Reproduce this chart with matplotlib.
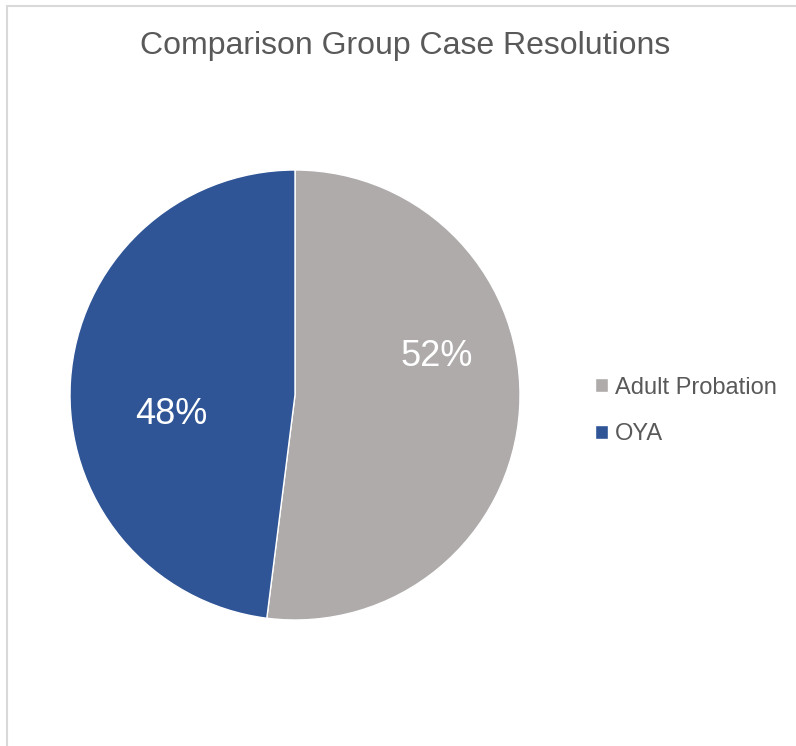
import matplotlib.pyplot as plt
from matplotlib.patches import Rectangle

plt.rcParams['font.family'] = ['Liberation Sans', 'DejaVu Sans']

# --- данные ---
categories = ["Adult Probation", "OYA"]
shares = [52, 48]
colors = ["#AFABAB", "#2F5597"]
label_pos = [(0.63, 0.17), (-0.55, -0.085)]  # куда Excel поставил подписи (в долях радиуса)

TEXT = "#595959"

fig = plt.figure(figsize=(7.96, 7.46), dpi=100)

# рамка области диаграммы
fig.patches.append(Rectangle((7 / 796, -0.01), 1.0, 1 - 6 / 746 + 0.01,
                             transform=fig.transFigure, fill=False,
                             edgecolor="#D9D9D9", linewidth=1.5))

ax = fig.add_axes([70 / 796, 126 / 746, 450 / 796, 450 / 746])
wedges, _, autotexts = ax.pie(shares, colors=colors, startangle=90, counterclock=False,
                              autopct="%d%%", pctdistance=0.65,
                              wedgeprops=dict(linewidth=1, edgecolor="white"),
                              textprops=dict(color="white", fontsize=26))
for t, p in zip(autotexts, label_pos):
    t.set_position(p)
ax.set_xlim(-1, 1)
ax.set_ylim(-1, 1)
ax.set_aspect("equal")

fig.text(405 / 796, 1 - 46 / 746, "Comparison Group Case Resolutions",
         ha="center", va="center", fontsize=23, color=TEXT)

leg = fig.legend(wedges, categories, loc="center left",
                 bbox_to_anchor=(574 / 796, 1 - 411 / 746), frameon=False,
                 fontsize=17, handlelength=0.55, handleheight=0.55,
                 handletextpad=0.3, labelspacing=1.05)
for t in leg.get_texts():
    t.set_color(TEXT)

fig.savefig("out.png", dpi=100)
